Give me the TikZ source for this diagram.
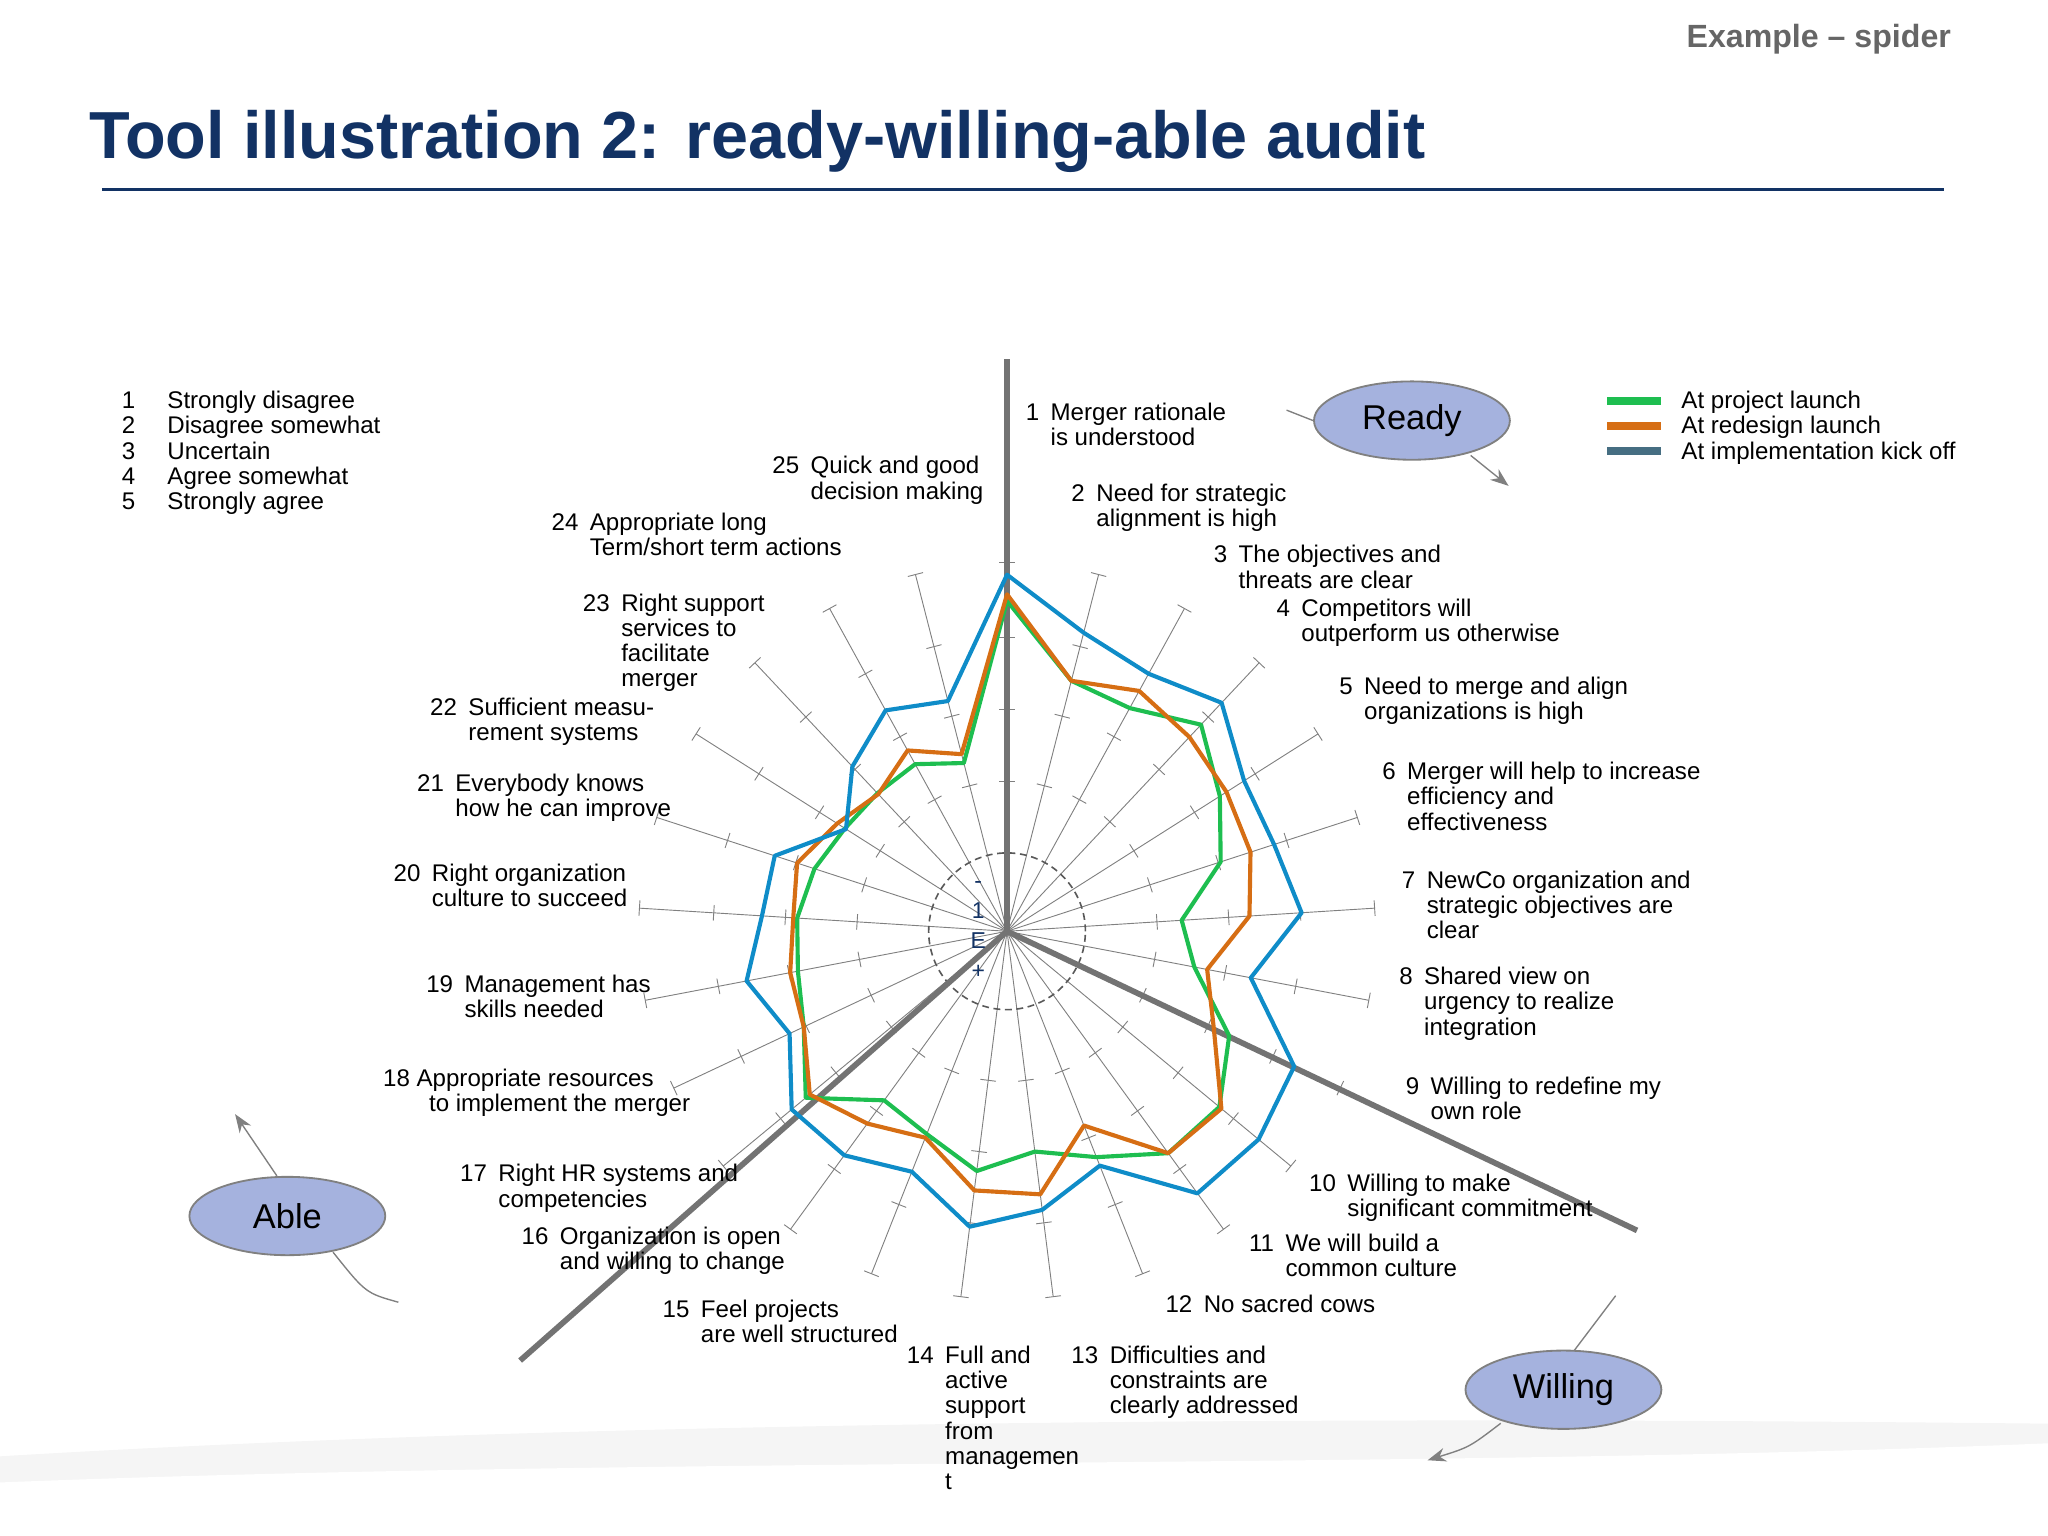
\documentclass[tikz,border=0pt]{standalone}
\usepackage{fontspec}
\setmainfont{Liberation Sans}
\usetikzlibrary{shapes.geometric,arrows.meta,calc}
\definecolor{navy}{RGB}{18,50,100}
\definecolor{sgreen}{RGB}{30,190,80}
\definecolor{sorange}{RGB}{214,110,20}
\definecolor{sblue}{RGB}{15,140,200}
\definecolor{sslate}{RGB}{70,110,130}
\definecolor{ellfill}{RGB}{165,178,222}
\definecolor{axgray}{RGB}{128,128,128}
\tikzset{
 lab/.style={anchor=north west,inner sep=0pt,font=\fontsize{10.5}{11}\selectfont,text=black},
 bub/.style={ellipse,draw=axgray,fill=ellfill,minimum width=3.0cm,minimum height=1.2cm,font=\fontsize{15}{16}\selectfont,line width=0.8pt},
 thin/.style={draw=axgray,line width=0.4pt},
 thick/.style={draw=axgray!90!black,line width=2.5pt},
 ser/.style={line width=1.8pt,line join=round},
 arr/.style={draw=axgray,line width=0.6pt,-{Stealth[length=8pt]}},
}
\newcommand{\lbl}[3]{\node[lab] (#1) at (#2) {\begin{tabular}{@{}l@{\hspace{5pt}}l@{}}#3\end{tabular}};}
\begin{document}
\begin{tikzpicture}[x=0.02cm,y=-0.02cm]
\useasboundingbox (0,0) rectangle (1568,1176);
% bottom swoosh
\fill[gray!8] (0,1176) -- (0,1115) .. controls (500,1085) and (1100,1085) .. (1568,1090) -- (1568,1176) -- cycle;
\fill[white] (0,1176) -- (0,1135) .. controls (500,1115) and (1100,1125) .. (1568,1105) -- (1568,1176) -- cycle;
% header
\node[anchor=east,inner sep=0pt,text=gray!80!black,font=\bfseries\fontsize{14}{16}\selectfont] (ex) at (1494,30) {Example -- spider};
\node[anchor=west,inner sep=0pt,text=navy,font=\bfseries\fontsize{29}{32}\selectfont] (title) at (68,108) {Tool illustration 2: ready-willing-able audit};
\draw[navy,line width=1.5pt] (78,145) -- (1488,145);
% scale list
\node[lab] (scale) at (93,299) {\begin{tabular}{@{}l@{\hspace{14pt}}l@{}}1&Strongly disagree\\2&Disagree somewhat\\3&Uncertain\\4&Agree somewhat\\5&Strongly agree\end{tabular}};
% legend
\fill[sgreen] (1230,304) rectangle (1272,310);
\fill[sorange] (1230,323) rectangle (1272,329);
\fill[sslate] (1230,342) rectangle (1272,348);
\node[lab] (leg) at (1287,299) {\begin{tabular}{@{}l@{}}At project launch\\At redesign launch\\At implementation kick off\end{tabular}};
% spider
\begin{scope}[shift={(771,713)},x=0.02cm,y=0.02cm]
\foreach \k in {1,...,25}{
  \pgfmathsetmacro\a{90-(\k-1)*14.4}
  \draw[thin] (0,0) -- (\a:282);
  \foreach \r in {115,170,225,282}{
    \draw[thin] ($(\a:\r)+(\a+90:6)$) -- ($(\a:\r)+(\a-90:6)$);
  }
}
\draw[densely dashed,gray!70!black,line width=0.7pt] (0,0) circle (60);
\draw[thick] (0,0) -- (90:438);
\draw[thick] (0,0) -- (-25.4:534);
\draw[thick] (0,0) -- (-138.6:497);
\draw[ser,sgreen] (90:253) \foreach \r [count=\k from 2] in {198,195,217,193,172,134,146,188,211,210,186,170,185,167,160,200,172,163,161,155,147,145,146,133}{ -- ({90-(\k-1)*14.4}:\r) } -- cycle;
\draw[ser,sorange] (90:258) \foreach \r [count=\k from 2] in {198,210,204,199,196,186,156,175,213,210,160,203,200,170,182,196,172,169,164,169,154,144,158,140}{ -- ({90-(\k-1)*14.4}:\r) } -- cycle;
\draw[ser,sblue] (90:273) \foreach \r [count=\k from 2] in {236,225,240,215,215,226,190,243,250,248,193,215,228,198,212,214,184,203,188,187,146,173,193,182}{ -- ({90-(\k-1)*14.4}:\r) } -- cycle;
\end{scope}
\node[inner sep=0pt,text=navy,font=\fontsize{10}{11}\selectfont,align=center] (cen) at (749,712) {-\\[2pt]1\\[2pt]E\\[2pt]+};
% labels
\lbl{l1}{785,308}{1&Merger rationale\\&is understood}
\lbl{l2}{820,370}{2&Need for strategic\\&alignment is high}
\lbl{l3}{929,417}{3&The objectives and\\&threats are clear}
\lbl{l4}{977,458}{4&Competitors will\\&outperform us otherwise}
\lbl{l5}{1025,518}{5&Need to merge and align\\&organizations is high}
\lbl{l6}{1058,583}{6&Merger will help to increase\\&efficiency and\\&effectiveness}
\lbl{l7}{1073,666}{7&NewCo organization and\\&strategic objectives are\\&clear}
\lbl{l8}{1071,740}{8&Shared view on\\&urgency to realize\\&integration}
\lbl{l9}{1076,824}{9&Willing to redefine my\\&own role}
\lbl{l10}{1002,898}{10&Willing to make\\&significant commitment}
\lbl{l11}{956,944}{11&We will build a\\&common culture}
\lbl{l12}{892,991}{12&No sacred cows}
\lbl{l13}{820,1030}{13&Difficulties and\\&constraints are\\&clearly addressed}
\lbl{l14}{694,1030}{14&Full and\\&active\\&support\\&from\\&managemen\\&t}
\lbl{l15}{507,995}{15&Feel projects\\&are well structured}
\lbl{l16}{399,939}{16&Organization is open\\&and willing to change}
\lbl{l17}{352,891}{17&Right HR systems and\\&competencies}
\node[lab] (l18) at (293,818) {\begin{tabular}{@{}l@{}}18 Appropriate resources\\\hspace{20pt}to implement the merger\end{tabular}};
\lbl{l19}{326,746}{19&Management has\\&skills needed}
\lbl{l20}{301,661}{20&Right organization\\&culture to succeed}
\lbl{l21}{319,592}{21&Everybody knows\\&how he can improve}
\lbl{l22}{329,534}{22&Sufficient measu-\\&rement systems}
\lbl{l23}{446,454}{23&Right support\\&services to\\&facilitate\\&merger}
\lbl{l24}{422,392}{24&Appropriate long\\&Term/short term actions}
\lbl{l25}{591,349}{25&Quick and good\\&decision making}
% bubbles
\node[bub] (ready) at (1081,322) {Ready};
\node[bub] (able) at (220,931) {Able};
\node[bub] (willing) at (1197,1064) {Willing};
\draw[thin,line width=0.6pt] (985,314) -- (ready.west);
\draw[arr] (ready.south) ++(45,-4) .. controls (1140,360) .. (1155,372);
\draw[arr] (able.north) ++(-8,0) -- (180,853);
\draw[thin,line width=0.6pt] (able.south) ++(35,-3) .. controls (280,990) .. (305,997);
\draw[thin,line width=0.6pt] (willing.north) ++(8,1) -- (1237,992);
\draw[arr] (willing.south) ++(-48,-5) .. controls (1125,1108) .. (1093,1118);
\end{tikzpicture}
\end{document}
